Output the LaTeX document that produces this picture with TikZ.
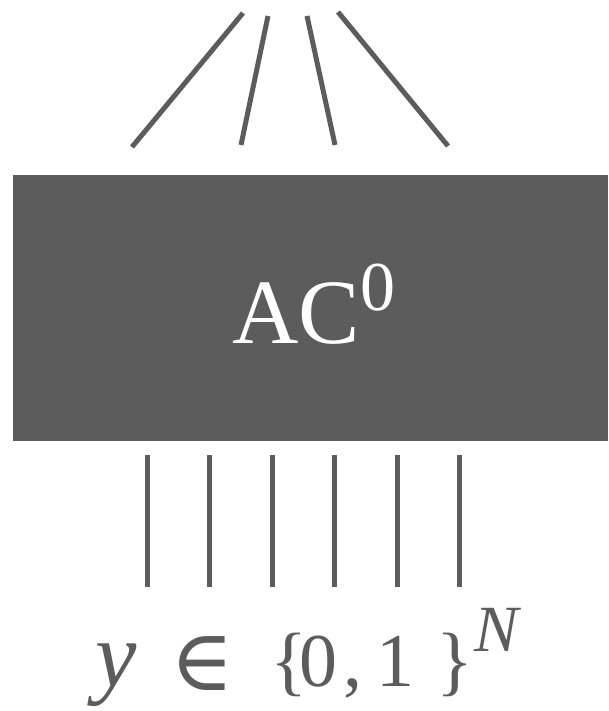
\documentclass[tikz,border=0pt]{standalone}
\usepackage{fontspec}
\setmainfont{Liberation Serif}
\newfontfamily\symfam{DejaVu Serif}
\begin{document}
\begin{tikzpicture}[x=1pt,y=-1pt,
  wire/.style={draw=gc,line width=5pt},
  gatebox/.style={fill=gc,draw=none,minimum width=595pt,minimum height=266pt,inner sep=0pt,anchor=north west},
  glyph/.style={anchor=base west,inner sep=0pt,text=gc}]
\definecolor{gc}{HTML}{5C5C5C}
\useasboundingbox (0,0) rectangle (608,711);
\node[gatebox] (box) at (13,175) {};
\node[anchor=base west,inner sep=0pt,text=white] (lab) at (232,343)
  {\fontsize{92}{92}\selectfont AC\raisebox{33pt}{\fontsize{70}{70}\selectfont 0}};
% top wires
\coordinate (t1a) at (132,147); \coordinate (t1b) at (243,13);
\coordinate (t2a) at (241,145); \coordinate (t2b) at (268,16);
\coordinate (t3a) at (335,145); \coordinate (t3b) at (307,16);
\coordinate (t4a) at (448,146); \coordinate (t4b) at (338,12);
\draw[wire] (t1a) -- (t1b);
\draw[wire] (t2a) -- (t2b);
\draw[wire] (t3a) -- (t3b);
\draw[wire] (t4a) -- (t4b);
% bottom wires
\foreach \i/\x in {1/147,2/209,3/272,4/334,5/397,6/459}{
  \coordinate (b\i a) at (\x,455);
  \coordinate (b\i b) at (\x,587);
  \draw[wire] (b\i a) -- (b\i b);
}
% input label y in {0,1}^N
\node[glyph] (gy) at (95,686) {\fontsize{93}{93}\selectfont\itshape y};
\node[glyph] (gin) at (170,690) {\fontsize{86}{86}\symfam ∈};
\node[glyph] (glb) at (270,686) {\fontsize{77}{77}\selectfont\{};
\node[glyph] (g0) at (299,686) {\fontsize{76}{76}\selectfont 0};
\node[glyph] (gc) at (343,686) {\fontsize{76}{76}\selectfont ,};
\node[glyph] (g1) at (376,686) {\fontsize{76}{76}\selectfont 1};
\node[glyph] (grb) at (436,686) {\fontsize{77}{77}\selectfont\}};
\node[glyph] (gN) at (474,651) {\fontsize{66}{66}\selectfont\itshape N};
\end{tikzpicture}
\end{document}
